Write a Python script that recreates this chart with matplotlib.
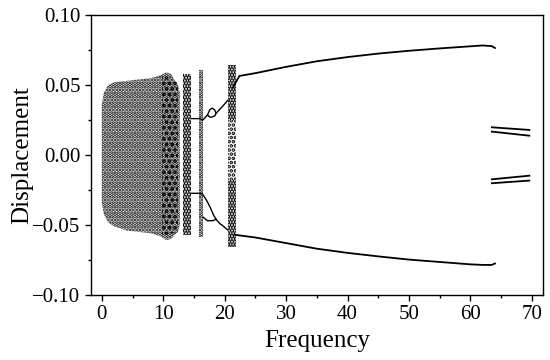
import matplotlib
matplotlib.use('Agg')
import matplotlib.pyplot as plt
from matplotlib.ticker import MultipleLocator

plt.rcParams['font.family'] = ['Liberation Serif', 'DejaVu Serif']
plt.rcParams['hatch.linewidth'] = 1.8

# ── chaotic bands: frequency, lower / upper envelope of the scattered points ──
blob_f   = [0.0, 0.3, 1.0, 2.0, 4.0, 6.0, 8.0, 9.5, 10.5, 11.3, 11.9, 12.4, 12.7]
blob_top = [0.036, 0.044, 0.050, 0.052, 0.053, 0.054, 0.055, 0.057, 0.059, 0.058, 0.053, 0.050, 0.045]
blob_bot = [-0.034, -0.042, -0.048, -0.051, -0.054, -0.055, -0.056, -0.058, -0.061, -0.060, -0.057, -0.055, -0.050]

bandA_f, bandA_top, bandA_bot = [13.2, 14.6], [0.058, 0.058], [-0.057, -0.057]
bandB_f, bandB_top, bandB_bot = [15.9, 16.5], [0.061, 0.061], [-0.059, -0.059]
bandC_f = [20.5, 21.9]
bandC_hi_top, bandC_hi_bot = [0.064, 0.064], [0.025, 0.025]
bandC_mid_top, bandC_mid_bot = [0.025, 0.025], [-0.018, -0.018]
bandC_lo_top, bandC_lo_bot = [-0.018, -0.018], [-0.066, -0.066]

# ── periodic branches ──
up_f = [21.3, 22.4, 25, 30, 35, 40, 45, 50, 55, 60, 62, 63.5, 64.0]
up_y = [0.048, 0.0565, 0.0585, 0.063, 0.067, 0.0700, 0.0725, 0.0745, 0.0762, 0.0777, 0.0783, 0.0778, 0.0765]
lo_f = [21.6, 22.4, 25, 30, 35, 40, 45, 50, 55, 60, 62, 63.5, 64.0]
lo_y = [-0.057, -0.0575, -0.059, -0.063, -0.067, -0.0700, -0.0725, -0.0748, -0.0765, -0.0782, -0.0786, -0.0786, -0.0776]

p2_up_f = [14.6, 15.9, 16.45, 17.2, 17.6, 18.0, 18.4, 18.6, 19.5, 20.5]
p2_up_y = [0.026, 0.026, 0.025, 0.0286, 0.027, 0.0272, 0.028, 0.0298, 0.034, 0.039]
p2_loop_f = [17.2, 17.6, 18.0, 18.4, 18.6]
p2_loop_y = [0.0286, 0.0325, 0.0335, 0.032, 0.0298]

p2_lo_f = [14.6, 16.1, 16.4, 17.0, 17.6, 18.2, 18.6, 19.2, 19.8, 20.5]
p2_lo_y = [-0.0274, -0.0274, -0.028, -0.032, -0.037, -0.043, -0.046, -0.049, -0.051, -0.0536]
p2_loop_lo_f = [16.5, 17.2, 18.0, 18.6]
p2_loop_lo_y = [-0.0445, -0.047, -0.047, -0.046]

# ── short branches near 64-70 Hz ──
pair_f = [63.5, 69.6]
pair1_a, pair1_b = [0.0198, 0.0179], [0.0167, 0.0138]
pair2_a, pair2_b = [-0.0174, -0.0148], [-0.0202, -0.0183]

fig = plt.figure(figsize=(5.5, 3.6), dpi=100)
ax = fig.add_axes([0.165, 0.181, 0.822, 0.777])

DOTS = dict(facecolor='none', edgecolor='black', linewidth=0)
ax.fill_between(blob_f, blob_bot, blob_top, hatch='.....', **DOTS)
ax.fill_between([9.8, 12.4], [-0.058, -0.055], [0.058, 0.052], hatch='...', **DOTS)
ax.fill_between(bandA_f, bandA_bot, bandA_top, hatch='......', **DOTS)
ax.fill_between(bandB_f, bandB_bot, bandB_top, hatch='.....', **DOTS)
ax.fill_between(bandC_f, bandC_hi_bot, bandC_hi_top, hatch='......', **DOTS)
ax.fill_between(bandC_f, bandC_mid_bot, bandC_mid_top, hatch='....', **DOTS)
ax.fill_between(bandC_f, bandC_lo_bot, bandC_lo_top, hatch='......', **DOTS)

LINE = dict(color='black', linewidth=1.3)
ax.plot(up_f, up_y, **LINE)
ax.plot(lo_f, lo_y, **LINE)
ax.plot(p2_up_f, p2_up_y, color='black', linewidth=1.0)
ax.plot(p2_loop_f, p2_loop_y, color='black', linewidth=1.0)
ax.plot(p2_lo_f, p2_lo_y, color='black', linewidth=1.0)
ax.plot(p2_loop_lo_f, p2_loop_lo_y, color='black', linewidth=1.0)
for a in (pair1_a, pair1_b, pair2_a, pair2_b):
    ax.plot(pair_f, a, **LINE)

ax.set_xlim(-1.8, 71.8)
ax.set_ylim(-0.1, 0.1)
ax.xaxis.set_major_locator(MultipleLocator(10))
ax.xaxis.set_minor_locator(MultipleLocator(5))
ax.yaxis.set_major_locator(MultipleLocator(0.05))
ax.yaxis.set_minor_locator(MultipleLocator(0.025))
ax.yaxis.set_major_formatter(lambda v, p: f'{v:.2f}'.replace('-', '\u2212'))
ax.tick_params(which='major', direction='out', length=4, width=1, labelsize=15)
ax.tick_params(which='minor', direction='out', length=2.5, width=1)
for s in ax.spines.values():
    s.set_linewidth(1.0)

ax.set_xlabel('Frequency', fontsize=18, labelpad=4)
ax.set_ylabel('Displacement', fontsize=18, labelpad=-1)

fig.savefig('out.png', dpi=100)
